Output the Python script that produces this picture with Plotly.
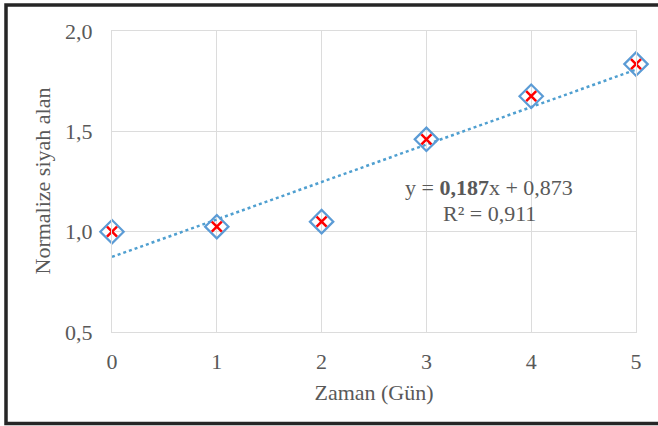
import numpy as np
import plotly.graph_objects as go

days = [0, 1, 2, 3, 4, 5]
norm_area = [1.00, 1.025, 1.05, 1.46, 1.675, 1.835]
x_ticks = [0, 1, 2, 3, 4, 5]
y_ticks = [0.5, 1.0, 1.5, 2.0]
y_ticklabels = ["0,5", "1,0", "1,5", "2,0"]
eq_text = "y = <b>0,187</b>x + 0,873"
r2_text = "R² = 0,911"
y_title = "Normalize siyah alan"
x_title = "Zaman (Gün)"

slope, intercept = np.polyfit(days, norm_area, 1)
trend_x = [min(days), max(days)]
trend_y = [slope * v + intercept for v in trend_x]

FONT = "Liberation Serif, Times New Roman, serif"
GRAY = "#595959"
GRID = "#dcdcdc"
FS = 22

fig = go.Figure()
fig.add_trace(go.Scatter(x=trend_x, y=trend_y, mode="lines",
                         line=dict(color="#4f9fd0", width=2.5, dash="dot"),
                         hoverinfo="skip", showlegend=False))
fig.add_trace(go.Scatter(x=days, y=norm_area, mode="markers", cliponaxis=False,
                         marker=dict(symbol="diamond-open", size=18, color="#5B9BD5",
                                     line=dict(width=2.2, color="#5B9BD5")),
                         showlegend=False))
fig.add_trace(go.Scatter(x=days, y=norm_area, mode="markers", cliponaxis=False,
                         marker=dict(symbol="x-thin-open", size=10, color="#FF0000",
                                     line=dict(width=2.5, color="#FF0000")),
                         showlegend=False))

L, R, T, B = 112, 22, 31, 94
W, H = 658, 426
pw, ph = W - L - R, H - T - B

fig.update_layout(
    width=W, height=H,
    margin=dict(l=L, r=R, t=T, b=B),
    paper_bgcolor="white", plot_bgcolor="white",
    font=dict(family=FONT, size=FS, color=GRAY),
    xaxis=dict(range=[0, 5], tickvals=x_ticks, showgrid=True, gridcolor=GRID, gridwidth=1.3,
               showline=True, mirror=True, linecolor=GRID, linewidth=1.3, zeroline=False,
               ticks="outside", ticklen=9, tickcolor="rgba(0,0,0,0)",
               tickfont=dict(family=FONT, size=FS, color=GRAY),
               title=dict(text=x_title, font=dict(family=FONT, size=FS, color=GRAY), standoff=12)),
    yaxis=dict(range=[0.5, 2.0], tickvals=y_ticks, ticktext=y_ticklabels, showgrid=True,
               gridcolor=GRID, gridwidth=1.3, showline=True, mirror=True, linecolor=GRID,
               linewidth=1.3, zeroline=False,
               ticks="outside", ticklen=14, tickcolor="rgba(0,0,0,0)",
               tickfont=dict(family=FONT, size=FS, color=GRAY)),
    annotations=[
        dict(x=3.6, y=1.22, xref="x", yref="y", text=eq_text, showarrow=False,
             font=dict(family=FONT, size=FS, color=GRAY), xanchor="center", yanchor="middle"),
        dict(x=3.6, y=1.09, xref="x", yref="y", text=r2_text, showarrow=False,
             font=dict(family=FONT, size=FS, color=GRAY), xanchor="center", yanchor="middle"),
        dict(x=(42 - L) / pw, y=0.5, xref="paper", yref="paper", text=y_title, textangle=-90,
             showarrow=False, font=dict(family=FONT, size=FS, color=GRAY),
             xanchor="center", yanchor="middle"),
    ],
    shapes=[
        dict(type="rect", xref="paper", yref="paper",
             x0=(6 - L) / pw, x1=(W + 10 - L) / pw,
             y0=-(423.5 - (T + ph)) / ph, y1=1 + (T - 5) / ph,
             line=dict(color="#262626", width=3.5), fillcolor="rgba(0,0,0,0)", layer="above"),
    ],
)

fig.write_html("out.html", config={"displayModeBar": False},
               post_script="document.body.style.margin='0';document.body.style.overflow='hidden';")
